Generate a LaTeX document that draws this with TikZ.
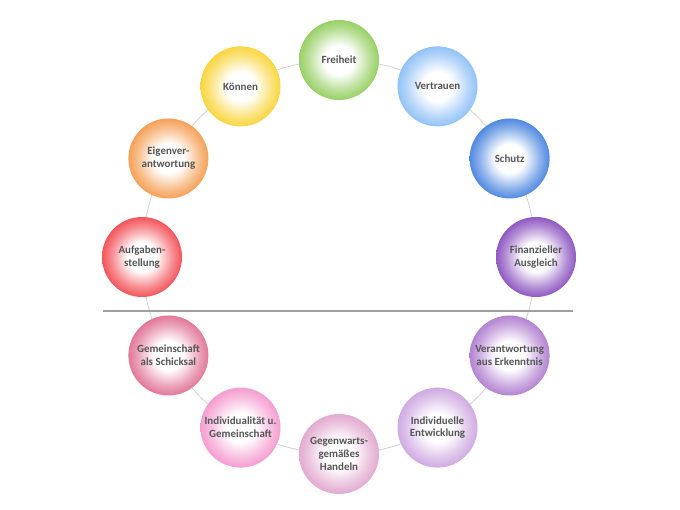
\documentclass[tikz,border=0pt]{standalone}
\usepackage{fontspec}
\setmainfont{Carlito}
\definecolor{cFrei}{HTML}{76C032}
\definecolor{cVertr}{HTML}{6EAEF4}
\definecolor{cSchutz}{HTML}{1662D6}
\definecolor{cFinanz}{HTML}{6A22AE}
\definecolor{cVerant}{HTML}{9A5AC2}
\definecolor{cIndiv}{HTML}{C08ED8}
\definecolor{cGegen}{HTML}{D88EC0}
\definecolor{cIndGem}{HTML}{F27CC0}
\definecolor{cGemein}{HTML}{D84A78}
\definecolor{cAufg}{HTML}{EE1C24}
\definecolor{cEigen}{HTML}{F28220}
\definecolor{cKoenn}{HTML}{F6C800}
\definecolor{txtgray}{HTML}{555555}
\colorlet{ballcol}{red}
\pgfdeclareradialshading[ballcol]{sphere}{\pgfpoint{0bp}{0bp}}{%
  color(0bp)=(white); color(9bp)=(white); color(19bp)=(ballcol!50!white);
  color(31bp)=(ballcol); color(50bp)=(ballcol!85!black)}
\begin{document}
\begin{tikzpicture}[x=1bp, y=1bp,
ball/.style={circle, minimum size=80bp, inner sep=0pt, shading=sphere,
  /utils/exec={\colorlet{ballcol}{#1}}, text=txtgray, align=center,
  font=\fontsize{11}{13}\selectfont\bfseries}
]
\useasboundingbox (0,0) rectangle (680,510);

% ---------- RING ----------
\coordinate (ctr) at (339,253);
\draw[black!18, line width=0.8bp] (ctr) circle (197);

% ---------- DIVIDER ----------
\coordinate (divL) at (103,199);
\coordinate (divR) at (573,199);
\draw[black!38, line width=1.8bp] (divL) -- (divR);

% ---------- UPPER HALF ----------
\begin{scope}[shift={(ctr)}]
\node[ball=cFrei] (frei) at (90:197) {Freiheit};
\node[ball=cVertr] (vertr) at (60:197) {Vertrauen};
\node[ball=cSchutz] (schutz) at (30:197) {Schutz};
\node[ball=cFinanz] (finanz) at (0:197) {Finanzieller\\Ausgleich};
\node[ball=cKoenn] (koenn) at (120:197) {Können};
\node[ball=cEigen] (eigen) at (150:197) {Eigenver-\\antwortung};
\node[ball=cAufg] (aufg) at (180:197) {Aufgaben-\\stellung};

% ---------- LOWER HALF ----------
\node[ball=cVerant] (verant) at (-30:197) {Verantwortung\\aus Erkenntnis};
\node[ball=cIndiv] (indiv) at (-60:197) {Individuelle\\Entwicklung};
\node[ball=cGegen] (gegen) at (-90:197) {Gegenwarts-\\gemäßes\\Handeln};
\node[ball=cIndGem] (indgem) at (-120:197) {Individualität u.\\Gemeinschaft};
\node[ball=cGemein] (gemein) at (-150:197) {Gemeinschaft\\als Schicksal};
\end{scope}

\end{tikzpicture}
\end{document}
